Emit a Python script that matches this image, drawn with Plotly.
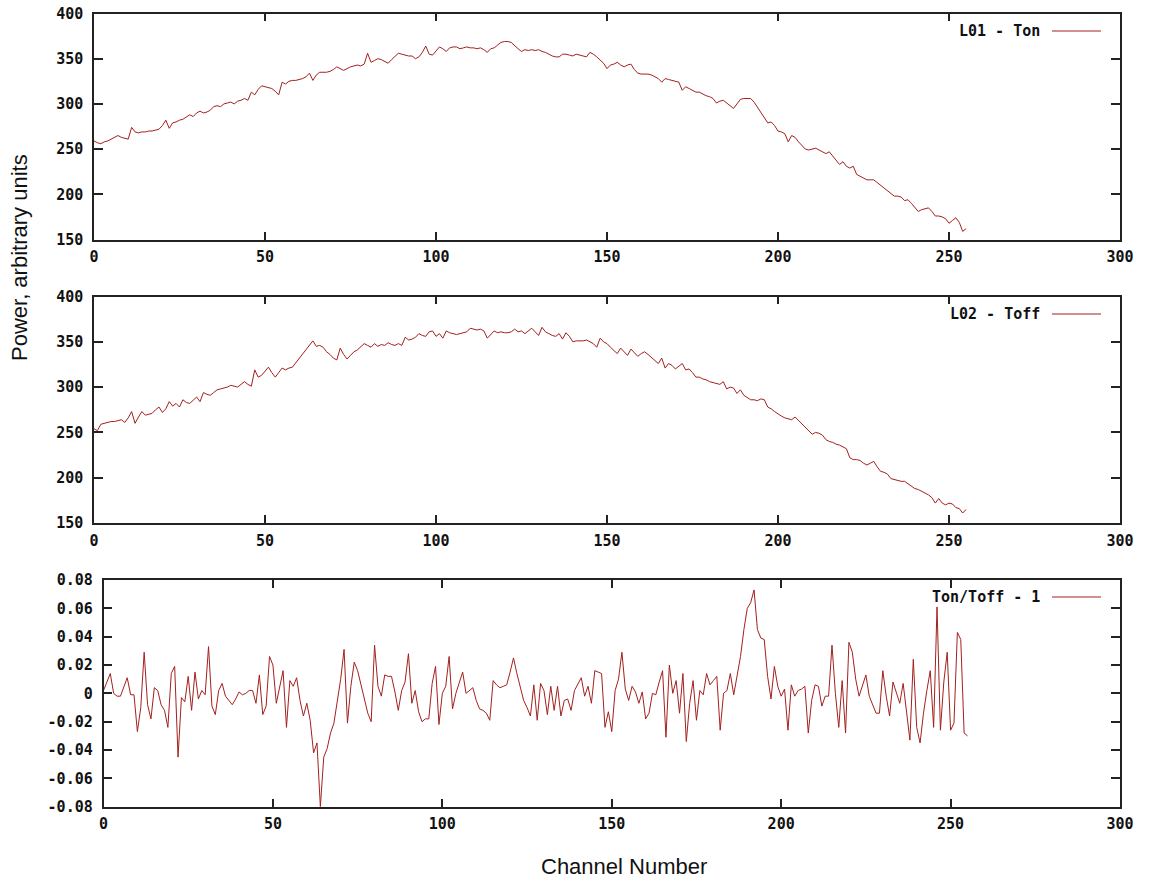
import plotly.graph_objects as go

channels = list(range(256))

ton = [259, 257, 256, 258, 259, 261, 263, 265, 263, 262,
       261, 274, 269, 268, 269, 269, 270, 270, 271, 272,
       276, 282, 273, 279, 280, 282, 283, 286, 288, 286,
       290, 292, 290, 291, 293, 297, 298, 297, 300, 301,
       302, 300, 303, 304, 306, 304, 313, 310, 316, 320,
       319, 318, 317, 314, 310, 324, 322, 325, 326, 326,
       327, 328, 330, 334, 326, 332, 335, 335, 335, 336,
       338, 341, 339, 337, 339, 341, 342, 343, 342, 344,
       356, 346, 348, 350, 349, 347, 345, 349, 353, 356,
       355, 354, 353, 353, 350, 352, 357, 364, 355, 354,
       358, 363, 361, 358, 362, 363, 363, 361, 362, 363,
       362, 362, 361, 362, 360, 357, 361, 362, 365, 368,
       369, 369, 368, 364, 361, 358, 360, 359, 360, 359,
       360, 358, 357, 355, 353, 352, 352, 355, 355, 354,
       353, 355, 354, 353, 352, 357, 355, 352, 348, 345,
       339, 343, 344, 346, 343, 341, 343, 344, 338, 334,
       333, 333, 333, 332, 330, 328, 324, 328, 327, 326,
       325, 324, 315, 319, 317, 315, 313, 313, 311, 309,
       308, 306, 301, 303, 304, 301, 298, 295, 300, 305,
       306, 306, 306, 302, 296, 290, 285, 279, 280, 276,
       270, 269, 267, 258, 265, 263, 258, 254, 250, 249,
       250, 251, 249, 247, 245, 247, 242, 237, 233, 236,
       231, 229, 231, 222, 220, 218, 216, 216, 216, 213,
       210, 207, 205, 201, 198, 198, 197, 193, 194, 190,
       186, 181, 183, 184, 185, 181, 176, 176, 175, 173,
       168, 171, 174, 169, 159, 162]

toff = [254, 252, 259, 260, 261, 262, 262, 263, 264, 261,
        266, 273, 260, 267, 273, 269, 270, 271, 275, 278,
        272, 276, 284, 279, 282, 278, 286, 283, 282, 285,
        289, 284, 294, 292, 291, 294, 297, 298, 299, 300,
        302, 301, 300, 303, 306, 303, 301, 319, 311, 313,
        318, 322, 316, 311, 316, 321, 319, 321, 322, 327,
        332, 336, 341, 346, 351, 345, 346, 344, 339, 336,
        332, 330, 343, 336, 331, 335, 339, 341, 344, 348,
        346, 344, 348, 345, 347, 346, 349, 347, 346, 348,
        346, 355, 352, 353, 355, 359, 357, 356, 361, 362,
        356, 359, 354, 362, 360, 359, 358, 359, 360, 361,
        365, 364, 363, 364, 362, 354, 358, 362, 360, 361,
        360, 360, 361, 364, 361, 362, 359, 362, 365, 361,
        357, 366, 361, 359, 357, 356, 359, 353, 360, 356,
        350, 351, 351, 351, 352, 350, 348, 344, 354, 350,
        348, 344, 341, 337, 343, 339, 335, 342, 338, 334,
        337, 339, 336, 333, 330, 326, 332, 321, 326, 324,
        320, 323, 326, 319, 320, 316, 311, 311, 309, 308,
        306, 305, 304, 303, 306, 298, 300, 299, 293, 297,
        291, 288, 286, 286, 285, 287, 286, 278, 276, 273,
        270, 268, 266, 265, 264, 267, 263, 259, 256, 251,
        248, 250, 249, 247, 242, 240, 239, 237, 236, 234,
        232, 222, 220, 220, 219, 216, 214, 216, 218, 212,
        207, 206, 204, 199, 198, 197, 196, 196, 193, 190,
        188, 187, 185, 183, 181, 178, 172, 177, 172, 170,
        172, 171, 167, 166, 161, 165]

ratio = [0.002, 0.008, 0.014, 0.000, -0.002, -0.002, 0.005, 0.011, -0.001, -0.001,
         -0.027, -0.010, 0.029, -0.008, -0.018, 0.004, 0.002, -0.008, -0.012, -0.024,
         0.014, 0.019, -0.045, -0.003, -0.006, 0.012, -0.012, 0.015, -0.004, 0.002,
         -0.001, 0.033, -0.009, -0.015, 0.002, 0.007, -0.002, -0.005, -0.008, -0.004,
         0.001, -0.001, 0.000, 0.002, 0.002, -0.007, 0.013, -0.015, -0.009, 0.026,
         0.020, -0.007, 0.005, 0.016, -0.024, 0.009, 0.005, 0.011, -0.005, -0.016,
         -0.007, -0.019, -0.042, -0.035, -0.080, -0.045, -0.039, -0.028, -0.021, -0.007,
         0.010, 0.031, -0.021, 0.005, 0.022, 0.016, 0.005, -0.004, -0.014, -0.020,
         0.034, 0.005, -0.002, 0.013, 0.012, 0.012, 0.001, -0.012, 0.002, 0.008,
         0.028, -0.007, 0.002, -0.013, -0.020, -0.018, -0.018, 0.007, 0.019, -0.022,
         0.000, 0.005, 0.026, -0.011, 0.000, 0.008, 0.015, 0.000, 0.002, 0.004,
         -0.005, -0.011, -0.012, -0.014, -0.019, 0.009, 0.006, 0.004, 0.005, 0.006,
         0.015, 0.025, 0.014, 0.005, -0.005, -0.010, -0.016, 0.006, -0.019, 0.007,
         0.002, -0.015, 0.005, -0.012, 0.005, -0.016, -0.005, -0.004, -0.012, 0.002,
         0.007, 0.011, -0.002, 0.005, -0.007, 0.016, 0.015, 0.014, -0.024, -0.013,
         -0.027, 0.002, 0.010, 0.029, 0.003, -0.005, 0.005, 0.001, -0.007, 0.001,
         -0.018, -0.014, 0.000, -0.001, 0.008, 0.016, -0.031, 0.020, 0.000, 0.009,
         -0.014, 0.014, -0.034, -0.007, 0.009, -0.019, 0.002, -0.001, 0.014, 0.006,
         0.009, 0.012, -0.026, 0.000, 0.002, 0.014, -0.001, 0.012, 0.026, 0.045,
         0.060, 0.064, 0.073, 0.045, 0.039, 0.038, 0.012, -0.004, 0.019, 0.005,
         -0.002, 0.003, -0.026, 0.006, -0.002, 0.002, 0.003, 0.005, -0.028, -0.005,
         0.006, 0.005, -0.009, -0.002, -0.002, 0.034, 0.000, -0.024, 0.009, -0.028,
         0.036, 0.029, 0.010, -0.002, 0.006, 0.013, -0.002, -0.008, -0.014, -0.014,
         0.016, -0.002, -0.016, 0.008, 0.000, -0.007, 0.007, -0.014, -0.033, 0.024,
         -0.024, -0.035, -0.014, 0.002, 0.016, -0.024, 0.061, -0.026, 0.008, 0.029,
         -0.026, -0.021, 0.043, 0.038, -0.028, -0.030]

series_names = ["L01 - Ton", "L02 - Toff", "Ton/Toff - 1"]
x_ticks = [0, 50, 100, 150, 200, 250, 300]
power_ticks = [150, 200, 250, 300, 350, 400]
ratio_ticks = [-0.08, -0.06, -0.04, -0.02, 0, 0.02, 0.04, 0.06, 0.08]
ratio_tick_labels = ["-0.08", "-0.06", "-0.04", "-0.02", "0", "0.02", "0.04", "0.06", "0.08"]

W, H = 1151, 881
LINE_COLOR = "#a3201e"
TICK_FONT = dict(family="DejaVu Sans Mono", size=15, color="#111111", weight="bold")
TITLE_FONT = dict(family="Liberation Sans", size=22, color="#111111")

def px(x):
    return x / W

def py(y):
    return 1 - y / H

fig = go.Figure()
data_sets = [ton, toff, ratio]
for i, (vals, name) in enumerate(zip(data_sets, series_names)):
    fig.add_trace(go.Scatter(
        x=channels, y=vals, mode="lines", name=name,
        line=dict(color=LINE_COLOR, width=1),
        xaxis="x" if i == 0 else f"x{i+1}",
        yaxis="y" if i == 0 else f"y{i+1}",
        showlegend=False,
    ))

common_axis = dict(
    showline=True, mirror="ticks", linecolor="#222222", linewidth=1.5,
    ticks="inside", tickcolor="#222222", tickwidth=1.5,
    showgrid=False, zeroline=False, tickfont=TICK_FONT, automargin=False,
    ticklabeloverflow="allow",
)

panels = [
    dict(x0=94, x1=1120, ytop=13.5, ybot=239.5),
    dict(x0=94, x1=1120, ytop=296.5, ybot=523),
    dict(x0=103.5, x1=1120, ytop=580, ybot=806.7),
]

layout = dict(
    width=W, height=H,
    margin=dict(l=0, r=0, t=0, b=0, pad=0, autoexpand=False),
    paper_bgcolor="white", plot_bgcolor="white",
    showlegend=False,
)
for i, p in enumerate(panels):
    xa = "xaxis" if i == 0 else f"xaxis{i+1}"
    ya = "yaxis" if i == 0 else f"yaxis{i+1}"
    yid = "y" if i == 0 else f"y{i+1}"
    xid = "x" if i == 0 else f"x{i+1}"
    layout[xa] = dict(common_axis, domain=[px(p["x0"]), px(p["x1"])], anchor=yid,
                      range=[0, 300], tickvals=x_ticks, ticklen=8,
                      ticklabelstandoff=3)
    if i < 2:
        layout[ya] = dict(common_axis, domain=[py(p["ybot"]), py(p["ytop"])], anchor=xid,
                          range=[150, 400], tickvals=power_ticks, ticklen=9,
                          ticklabelstandoff=6)
    else:
        layout[ya] = dict(common_axis, domain=[py(p["ybot"]), py(p["ytop"])], anchor=xid,
                          range=[-0.08, 0.08], tickvals=ratio_ticks,
                          ticktext=ratio_tick_labels, ticklen=9,
                          ticklabelstandoff=6)
fig.update_layout(**layout)

# gnuplot-style key: label then line sample on the right
key_y = [31, 314, 597]
for name, ky in zip(series_names, key_y):
    fig.add_annotation(x=px(1042), y=py(ky), xref="paper", yref="paper",
                       text=name, showarrow=False, xanchor="right", yanchor="middle",
                       font=TICK_FONT)
    fig.add_shape(type="line", xref="paper", yref="paper",
                  x0=px(1052), x1=px(1101), y0=py(ky), y1=py(ky),
                  line=dict(color=LINE_COLOR, width=1))

fig.add_annotation(x=px(19), y=py(258), xref="paper", yref="paper",
                   text="Power, arbitrary units", textangle=-90, showarrow=False,
                   xanchor="center", yanchor="middle", font=TITLE_FONT)
fig.add_annotation(x=px(624), y=py(866), xref="paper", yref="paper",
                   text="Channel Number", showarrow=False,
                   xanchor="center", yanchor="middle", font=TITLE_FONT)

# remove the browser's default 8px body margin so the figure fills the window
fig.write_html("out.html",
               config={"displayModeBar": False},
               post_script="document.body.style.margin='0';document.body.style.padding='0';")
